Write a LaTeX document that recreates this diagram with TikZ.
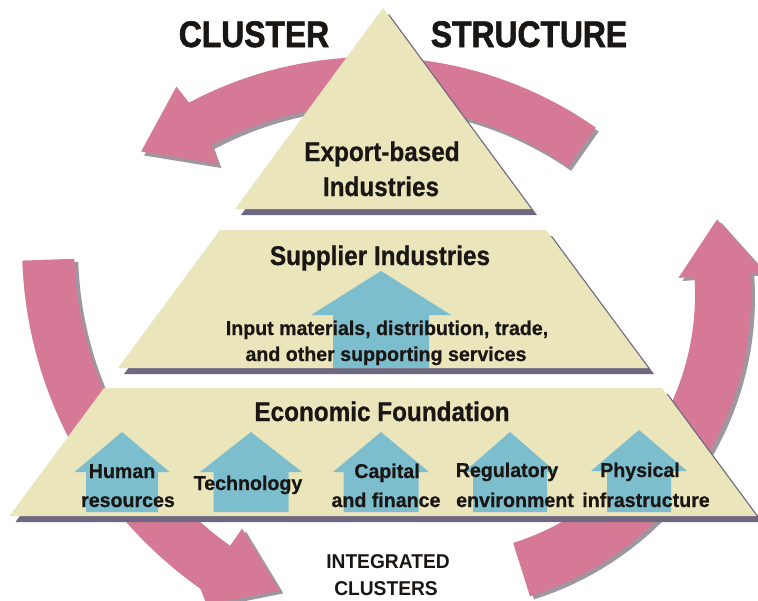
\documentclass[tikz,border=0pt]{standalone}
\usepackage{fontspec}
\setmainfont{Liberation Sans}
\newfontfamily\titlefont[FakeStretch=0.86,FakeBold=1.6]{Liberation Sans Bold}
\newfontfamily\headfont[FakeStretch=0.9,FakeBold=0.7]{Liberation Sans Bold}
\newfontfamily\lblfont[FakeStretch=0.98,FakeBold=0.6]{Liberation Sans Bold}
\newfontfamily\intfont[FakeStretch=0.96]{Liberation Sans Bold}
\usetikzlibrary{calc}
\definecolor{beige}{RGB}{235,229,187}
\definecolor{pinkc}{RGB}{214,121,150}
\definecolor{bluec}{RGB}{125,190,206}
\definecolor{shadowc}{RGB}{112,104,128}
\definecolor{pshadow}{RGB}{160,150,160}
\definecolor{inkc}{RGB}{25,22,20}
\newcommand\TopArrow[2]{\fill[#1,shift={#2}]
  plot[domain=55:118,samples=40] ({372+390*cos(\x)},{447-390*sin(\x)})
  -- ({372+410*cos(118.5)},{447-410*sin(118.5)})
  -- ({372+375*cos(128)},{447-375*sin(128)})
  -- ({372+322*cos(118.5)},{447-322*sin(118.5)})
  -- plot[domain=118:55,samples=40] ({372+342*cos(\x)},{447-342*sin(\x)}) -- cycle;}
\newcommand\RightArrow[2]{\fill[#1,shift={#2}]
  plot[domain=-72.5:4,samples=40] ({435+316*cos(\x)},{295-316*sin(\x)})
  -- ({435+330*cos(4)},{295-330*sin(4)})
  -- ({435+292*cos(15)},{295-292*sin(15)})
  -- ({435+244*cos(4)},{295-244*sin(4)})
  -- plot[domain=4:-72.5,samples=40] ({435+260*cos(\x)},{295-260*sin(\x)}) -- cycle;}
\newcommand\LeftArrow[2]{\fill[#1,shift={#2}]
  plot[domain=182:235,samples=40] ({440+418*cos(\x)},{246-418*sin(\x)})
  -- ({440+428*cos(237)},{246-428*sin(237)})
  -- ({440+380*cos(245)},{246-380*sin(245)})
  -- ({440+345*cos(235)},{246-345*sin(235)})
  -- plot[domain=235:182,samples=40] ({440+366*cos(\x)},{246-366*sin(\x)}) -- cycle;}
% tip x, tip y, wing half, shaft half, wing y, bottom y
\newcommand\BlueArrow[6]{\fill[bluec] (#1,#2) -- ({#1+#3},#5) -- ({#1+#4},#5) -- ({#1+#4},#6)
  -- ({#1-#4},#6) -- ({#1-#4},#5) -- ({#1-#3},#5) -- cycle;}
\tikzset{
  lbl/.style={anchor=base, inner sep=0pt, text=inkc, font=\lblfont\fontsize{20}{20}\selectfont},
  head/.style={anchor=base, inner sep=0pt, text=inkc, font=\headfont\fontsize{27}{27}\selectfont},
  title/.style={anchor=base, inner sep=0pt, text=inkc, font=\titlefont\fontsize{37}{37}\selectfont},
  intl/.style={anchor=base, inner sep=0pt, text=inkc, font=\intfont\fontsize{20}{20}\selectfont},
  layer/.style={fill=beige},
  layershadow/.style={fill=shadowc}
}
\begin{document}
\begin{tikzpicture}[x=1pt,y=-1pt]
\useasboundingbox (0,0) rectangle (758,600);
\clip (0,0) rectangle (758,600);
\fill[white] (0,0) rectangle (758,600);
% pink arrows (behind)
\TopArrow{pshadow}{(3,4)}
\RightArrow{pshadow}{(4,3)}
\LeftArrow{pshadow}{(4,3)}
\TopArrow{pinkc}{(0,0)}
\RightArrow{pinkc}{(0,0)}
\LeftArrow{pinkc}{(0,0)}
% layer shadows
\fill[layershadow,shift={(6,6)}] (383,8) -- (531,209) -- (235,209) -- cycle;
\fill[layershadow,shift={(6,6)}] (220,230) -- (546,230) -- (648,368) -- (118,368) -- cycle;
\fill[layershadow,shift={(6,6)}] (104,388) -- (662,388) -- (756.5,516) -- (9.5,516) -- cycle;
% layers
\fill[layer] (383,8) -- (531,209) -- (235,209) -- cycle;
\fill[layer] (220,230) -- (546,230) -- (648,368) -- (118,368) -- cycle;
\fill[layer] (104,388) -- (662,388) -- (756.5,516) -- (9.5,516) -- cycle;
% blue arrows
\BlueArrow{381}{271}{70}{48}{315}{368}
\BlueArrow{122}{432}{47.5}{36}{472}{512}
\BlueArrow{251}{432}{51}{37.5}{472}{512}
\BlueArrow{381}{432}{48}{37.5}{472}{512}
\BlueArrow{510}{432}{46}{37}{472}{512}
\BlueArrow{639}{430}{48}{32}{471}{512}
% texts
\node[title] (t1) at (254,47) {CLUSTER};
\node[title] (t2) at (529,47) {STRUCTURE};
\node[head] (e1) at (382,161) {Export-based};
\node[head] (e2) at (381,196) {Industries};
\node[head] (s1) at (380,265) {Supplier Industries};
\node[lbl] (s2) at (387,335) {Input materials, distribution, trade,};
\node[lbl] (s3) at (386,361) {and other supporting services};
\node[head] (f0) at (382,421) {Economic Foundation};
\node[lbl] (h1) at (122,478) {Human};
\node[lbl] (h2) at (128,507) {resources};
\node[lbl] (tc) at (248,490) {Technology};
\node[lbl] (c1) at (387,478) {Capital};
\node[lbl] (c2) at (386,507) {and finance};
\node[lbl] (r1) at (507,477) {Regulatory};
\node[lbl] (r2) at (515,507) {environment};
\node[lbl] (p1) at (640,477) {Physical};
\node[lbl] (p2) at (646,507) {infrastructure};
\node[intl] (i1) at (388,568) {INTEGRATED};
\node[intl] (i2) at (386,595) {CLUSTERS};
\end{tikzpicture}
\end{document}
